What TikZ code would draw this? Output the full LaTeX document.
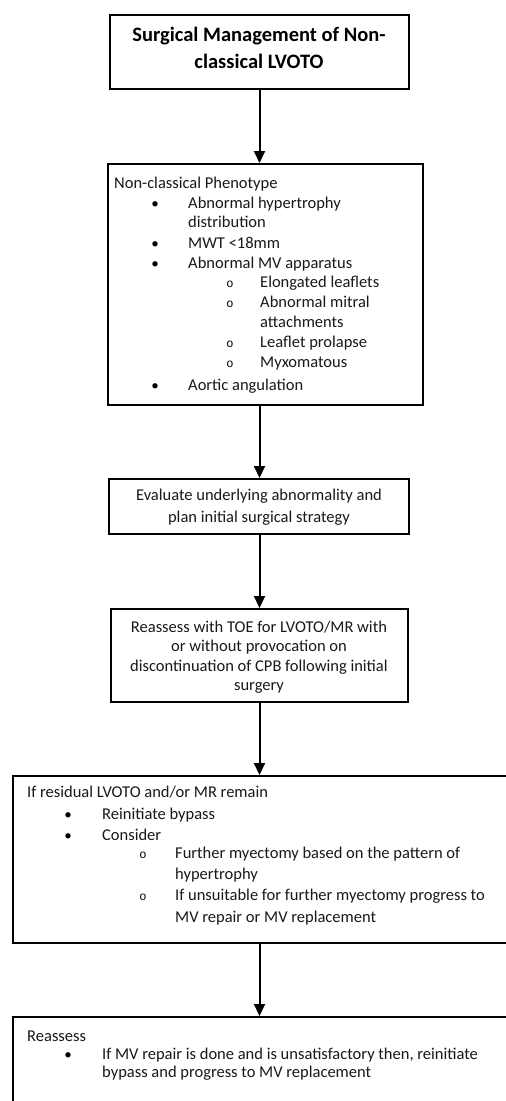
\documentclass[tikz,border=0pt]{standalone}
\usepackage{fontspec}
\setmainfont{Carlito}
\newfontfamily\bulfont{Liberation Mono}
\usetikzlibrary{arrows.meta}
\begin{document}
\begin{tikzpicture}[x=1pt,y=-1pt,
  box/.style={draw=black, line width=2pt, anchor=north west, inner sep=0pt, fill=white},
  txt/.style={anchor=base west, inner sep=0pt, font=\fontsize{16.5}{20}\selectfont, text=black!90},
  ctxt/.style={anchor=base, inner sep=0pt, font=\fontsize{16.5}{20}\selectfont, text=black!90},
  ttl/.style={anchor=base, inner sep=0pt, font=\fontsize{20.5}{27}\selectfont\bfseries, text=black},
  bul/.style={anchor=base, inner sep=0pt, font=\fontsize{15}{20}\selectfont},
  sbul/.style={anchor=base, inner sep=0pt, font=\fontsize{12}{20}\bulfont},
  arr/.style={line width=2pt, -{Triangle[width=11pt,length=12pt]}}]
\useasboundingbox (0,0) rectangle (506,1101);
\clip (0,0) rectangle (506,1101);
\fill[white] (0,0) rectangle (506,1101);
% boxes
\node[box, minimum width=299pt, minimum height=74pt] (b1) at (109,14) {};
\node[box, minimum width=315pt, minimum height=241pt] (b2) at (107,163) {};
\node[box, minimum width=300pt, minimum height=55pt] (b3) at (108,478) {};
\node[box, minimum width=297pt, minimum height=93pt] (b4) at (110,608) {};
\node[box, minimum width=530pt, minimum height=167pt] (b5) at (12,775) {};
\node[box, minimum width=530pt, minimum height=130pt] (b6) at (12,1016) {};
% arrows
\draw[arr] (b1.south) -- (b1.south |- b2.north);
\draw[arr] (b1.south |- b2.south) -- (b1.south |- b3.north);
\draw[arr] (b1.south |- b3.south) -- (b1.south |- b4.north);
\draw[arr] (b4.south) -- (b4.south |- b5.north);
\draw[arr] (b4.south |- b5.south) -- (b4.south |- b6.north);
% box 1
\node[ttl] (t1a) at (259,41) {Surgical Management of Non-};
\node[ttl] (t1b) at (259,68) {classical LVOTO};
% box 2
\node[txt] (t2a) at (114,188) {Non-classical Phenotype};
\node[bul] (u2a) at (155,208) {•};
\node[txt] (t2b) at (188,208) {Abnormal hypertrophy};
\node[txt] (t2c) at (188,227) {distribution};
\node[bul] (u2d) at (155,248) {•};
\node[txt] (t2d) at (188,248) {MWT <18mm};
\node[bul] (u2e) at (155,268) {•};
\node[txt] (t2e) at (188,268) {Abnormal MV apparatus};
\node[sbul] (s2f) at (230,287) {o};
\node[txt] (t2f) at (260,287) {Elongated leaflets};
\node[sbul] (s2g) at (230,307) {o};
\node[txt] (t2g) at (260,307) {Abnormal mitral};
\node[txt] (t2h) at (260,327) {attachments};
\node[sbul] (s2i) at (230,347) {o};
\node[txt] (t2i) at (260,347) {Leaflet prolapse};
\node[sbul] (s2j) at (230,367) {o};
\node[txt] (t2j) at (260,367) {Myxomatous};
\node[bul] (u2k) at (155,390) {•};
\node[txt] (t2k) at (188,390) {Aortic angulation};
% box 3
\node[ctxt] (t3a) at (259,500) {Evaluate underlying abnormality and};
\node[ctxt] (t3b) at (259,522) {plan initial surgical strategy};
% box 4
\node[ctxt] (t4a) at (259,632) {Reassess with TOE for LVOTO/MR with};
\node[ctxt] (t4b) at (259,651) {or without provocation on};
\node[ctxt] (t4c) at (259,671) {discontinuation of CPB following initial};
\node[ctxt] (t4d) at (259,690) {surgery};
% box 5
\node[txt] (t5a) at (27,797) {If residual LVOTO and/or MR remain};
\node[bul] (u5b) at (68,819) {•};
\node[txt] (t5b) at (102,819) {Reinitiate bypass};
\node[bul] (u5c) at (68,840) {•};
\node[txt] (t5c) at (102,840) {Consider};
\node[sbul] (s5d) at (143,858) {o};
\node[txt] (t5d) at (175,858) {Further myectomy based on the pattern of};
\node[txt] (t5e) at (175,879) {hypertrophy};
\node[sbul] (s5f) at (143,900) {o};
\node[txt] (t5f) at (175,900) {If unsuitable for further myectomy progress to};
\node[txt] (t5g) at (175,922) {MV repair or MV replacement};
% box 6
\node[txt] (t6a) at (27,1041) {Reassess};
\node[bul] (u6b) at (68,1059) {•};
\node[txt] (t6b) at (102,1059) {If MV repair is done and is unsatisfactory then, reinitiate};
\node[txt] (t6c) at (102,1077) {bypass and progress to MV replacement};
\end{tikzpicture}
\end{document}
